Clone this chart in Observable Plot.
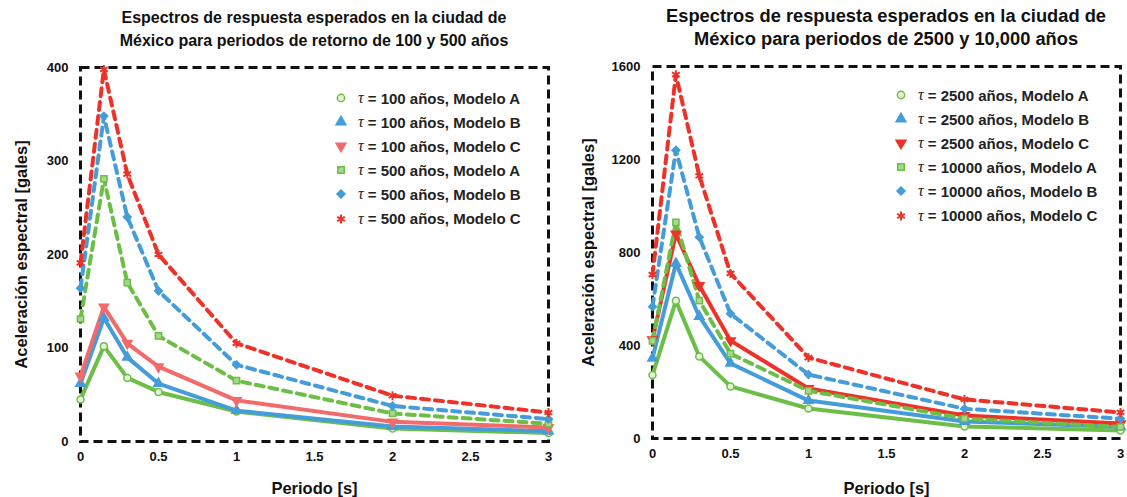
<!DOCTYPE html>
<html><head><meta charset="utf-8">
<script src="https://cdn.jsdelivr.net/npm/d3@7"></script>
<script src="https://cdn.jsdelivr.net/npm/@observablehq/plot@0.6"></script>
<style>
body{margin:0;background:#fff;font-family:"Liberation Sans",Arial,sans-serif;}
#root{position:relative;width:1127px;height:497px;overflow:hidden;background:#fff;}
.panel{position:absolute;top:0;}
.title{position:absolute;text-align:center;font-weight:bold;color:#111;white-space:nowrap;line-height:23px;}
.legend{position:absolute;font-weight:bold;font-size:15px;color:#222;}
.legend .row{display:flex;align-items:center;height:24.1px;white-space:nowrap}
.legend svg{margin-right:10px}
.tau{font-family:"Liberation Serif","DejaVu Serif",serif;font-style:italic;font-weight:normal;font-size:16px;margin-right:4px}
g[aria-label="y-axis label"] text, g[aria-label="x-axis label"] text{font-size:16.5px}
</style></head>
<body><div id="root"></div>
<script>
// ---- data ----
const periods = [0, 0.15, 0.3, 0.5, 1, 2, 3];

const leftNames = ["= 100 años, Modelo A", "= 100 años, Modelo B", "= 100 años, Modelo C",
                   "= 500 años, Modelo A", "= 500 años, Modelo B", "= 500 años, Modelo C"];
const a100 = [45, 102, 68, 53, 32, 14, 9];
const b100 = [62, 132, 90, 62, 33, 16, 11];
const c100 = [70, 144, 105, 80, 44, 21, 15];
const a500 = [131, 281, 170, 113, 65, 30, 19];
const b500 = [164, 348, 240, 161, 82, 38, 24];
const c500 = [191, 398, 286, 200, 105, 49, 31];
const leftTicks = [0, 100, 200, 300, 400];

const rightNames = ["= 2500 años, Modelo A", "= 2500 años, Modelo B", "= 2500 años, Modelo C",
                    "= 10000 años, Modelo A", "= 10000 años, Modelo B", "= 10000 años, Modelo C"];
const a2500 = [273, 592, 353, 224, 129, 52, 34];
const b2500 = [345, 753, 525, 323, 163, 73, 50];
const c2500 = [425, 880, 658, 421, 215, 99, 64];
const a10000 = [420, 930, 593, 365, 205, 86, 50];
const b10000 = [567, 1240, 866, 537, 275, 128, 85];
const c10000 = [705, 1565, 1130, 710, 348, 168, 112];
const rightTicks = [0, 400, 800, 1200, 1600];

const xTicks = [0, 0.5, 1, 1.5, 2, 2.5, 3];

// ---- styles ----
const GREEN = "#6cbe47", BLUE = "#449dd8", RED = "#ee3229", LRED = "#f26a6a";
const triDown = {draw(ctx, size){ const y = -Math.sqrt(size/(Math.sqrt(3)*3)); ctx.moveTo(0, -y*2); ctx.lineTo(-Math.sqrt(3)*y, y); ctx.lineTo(Math.sqrt(3)*y, y); ctx.closePath(); }};
const symbols = [d3.symbolCircle, d3.symbolTriangle, triDown, d3.symbolSquare, d3.symbolDiamond2, d3.symbolAsterisk];
const lightFill = ["#e4f3da", null, null, "#a6d98b", null, null];

function makeTable(names, arrays){
  const rows = [];
  names.forEach((n, i) => arrays[i].forEach((v, j) => rows.push({s: i, name: n, x: periods[j], y: v})));
  return rows;
}
function fillOf(i, colors){ return i === 5 ? "none" : (lightFill[i] || colors[i]); }

function panel(opts){
  const {names, arrays, colors, ticks, ymax, left, width, margins, titleLines, titleSize, titleTop, legendPos, labelOffY, labelOffX} = opts;
  const rows = makeTable(names, arrays);
  const marks = [Plot.frame({stroke:"#111", strokeWidth:3, strokeDasharray:"9,5"})];
  names.forEach((n, i) => {
    const d = rows.filter(r => r.s === i);
    marks.push(Plot.line(d, {x:"x", y:"y", stroke: colors[i], strokeWidth: 4, strokeDasharray: i >= 3 ? "8,6" : null, strokeLinejoin:"round"}));
  });
  names.forEach((n, i) => {
    const d = rows.filter(r => r.s === i);
    const isStar = i === 5;
    marks.push(Plot.dot(d, {x:"x", y:"y", symbol: () => symbols[i], r: isStar ? 4.2 : 3.5,
      fill: fillOf(i, colors), stroke: colors[i], strokeWidth: isStar ? 2 : 1.5}));
  });
  marks.push(Plot.axisY({ticks, tickSize:0, tickPadding:12, tickFormat: d => String(d),
    label:"Aceleración espectral [gales]", labelAnchor:"center", labelArrow:"none", labelOffset: labelOffY}));
  marks.push(Plot.axisX({ticks: xTicks, tickSize:0, tickPadding:10, tickFormat: d => String(d),
    label:"Periodo [s]", labelAnchor:"center", labelArrow:"none", labelOffset: labelOffX}));
  const chart = Plot.plot({
    width, height: 497,
    marginLeft: margins[0], marginRight: margins[1], marginTop: margins[2], marginBottom: margins[3],
    x: {domain:[0,3]}, y: {domain:[0,ymax]},
    style: {fontFamily:'"Liberation Sans", Arial, sans-serif', fontSize:"13px", fontWeight:"bold", color:"#111", background:"transparent", overflow:"visible"},
    marks
  });
  const div = document.createElement("div");
  div.className = "panel"; div.style.left = left + "px"; div.style.width = width + "px"; div.style.height = "497px";
  div.appendChild(chart);
  const t = document.createElement("div");
  t.className = "title";
  const fl = margins[0], fr = width - margins[1];
  t.style.left = (fl - 40) + "px"; t.style.width = (fr - fl + 80) + "px"; t.style.top = titleTop + "px";
  t.style.fontSize = titleSize + "px";
  t.innerHTML = titleLines.join("<br>");
  div.appendChild(t);
  const lg = document.createElement("div");
  lg.className = "legend"; lg.style.left = legendPos[0] + "px"; lg.style.top = legendPos[1] + "px";
  names.forEach((n, i) => {
    const row = document.createElement("div"); row.className = "row";
    const s = d3.create("svg").attr("width", 14).attr("height", 14);
    s.append("path").attr("transform", "translate(7,7)")
      .attr("d", d3.symbol(symbols[i], i === 5 ? 55 : 42)())
      .attr("fill", fillOf(i, colors))
      .attr("stroke", colors[i]).attr("stroke-width", i === 5 ? 2 : 1.5);
    row.appendChild(s.node());
    const tau = document.createElement("span"); tau.className = "tau"; tau.textContent = "τ";
    row.appendChild(tau);
    const tx = document.createElement("span"); tx.textContent = n;
    row.appendChild(tx);
    lg.appendChild(row);
  });
  div.appendChild(lg);
  document.getElementById("root").appendChild(div);
}

panel({
  names: leftNames, arrays: [a100, b100, c100, a500, b500, c500],
  colors: [GREEN, BLUE, LRED, GREEN, BLUE, RED], ticks: leftTicks, ymax: 400,
  left: 0, width: 564, margins: [80, 16, 67, 56],
  titleLines: ["Espectros de respuesta esperados en la ciudad de", "México para periodos de retorno de 100 y 500 años"],
  titleSize: 16, titleTop: 6, legendPos: [334, 86], labelOffY: 65, labelOffX: 52
});
panel({
  names: rightNames, arrays: [a2500, b2500, c2500, a10000, b10000, c10000],
  colors: [GREEN, BLUE, RED, GREEN, BLUE, RED], ticks: rightTicks, ymax: 1600,
  left: 564, width: 563, margins: [88, 7, 66, 59],
  titleLines: ["Espectros de respuesta esperados en la ciudad de", "México para periodos de 2500 y 10,000 años"],
  titleSize: 18.3, titleTop: 4, legendPos: [330, 83], labelOffY: 70, labelOffX: 55
});
</script></body></html>
